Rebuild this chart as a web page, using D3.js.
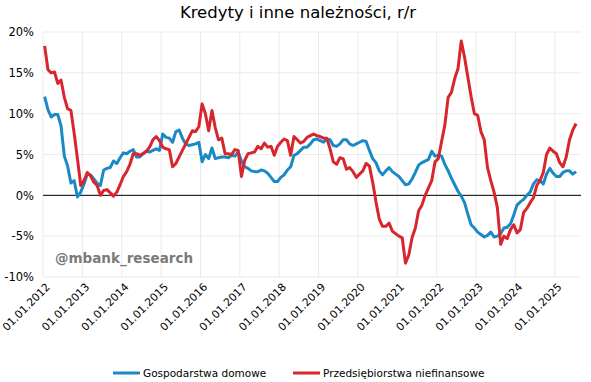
<!DOCTYPE html>
<html>
<head>
<meta charset="utf-8">
<script src="https://cdn.jsdelivr.net/npm/d3@7"></script>
<style>
  body { margin: 0; background: #fff; }
  text { font-family: "DejaVu Sans", Verdana, sans-serif; }
</style>
</head>
<body>
<div id="vizArea"></div>
<script>
// monthly data, Jan 2012 - Jul 2025, y/y %
var households = [
  12.1, 10.5, 9.6, 9.9, 9.9, 8.5, 4.8, 3.6, 1.5, 1.8, -0.2, 0.4,
  1.4, 2.6, 2.5, 2.0, 1.5, 1.2, 3.1, 3.3, 3.4, 4.2, 3.9, 4.6,
  5.2, 5.1, 5.4, 5.6, 4.7, 4.7, 5.1, 5.4, 5.3, 5.5, 5.7, 5.5,
  7.5, 7.1, 7.0, 6.5, 7.8, 8.0, 7.0, 6.3, 6.1, 6.2, 6.3, 6.5,
  4.1, 5.0, 4.5, 5.8, 4.5, 4.6, 4.7, 4.7, 4.6, 4.9, 4.8, 5.3,
  4.2, 3.5, 3.3, 3.0, 2.9, 2.9, 3.1, 3.0, 2.7, 2.2, 1.7, 1.7,
  2.2, 2.5, 3.1, 3.5, 4.9, 5.1, 5.5, 5.9, 5.9, 6.3, 6.8, 6.9,
  6.7, 6.5, 6.9, 6.8, 6.1, 6.0, 6.3, 6.8, 6.8, 6.3, 6.1, 6.3,
  6.5, 6.7, 6.6, 5.5, 4.5, 4.0, 3.0, 2.5, 3.0, 3.4, 2.9, 2.6,
  2.3, 1.8, 1.3, 1.4, 2.0, 2.8, 3.7, 4.0, 4.2, 4.4, 5.4, 4.8,
  4.9, 4.8, 3.8, 3.0, 2.1, 1.3, 0.5, -0.1, -0.9, -2.3, -3.6, -4.0,
  -4.5, -4.8, -5.1, -4.9, -4.5, -5.1, -5.0, -4.7, -4.0, -3.9, -3.5, -2.4,
  -1.2, -0.8, -0.5, 0.0, 0.4, 1.4, 1.9, 1.8, 1.4, 2.6, 3.3, 2.7,
  2.3, 2.3, 2.8, 3.0, 3.0, 2.6, 2.9
];

var corporates = [
  18.3, 15.4, 15.0, 15.1, 13.7, 14.1, 12.0, 10.6, 10.4, 7.6, 4.5, 1.2,
  1.8, 2.8, 2.4, 1.6, 1.2, 0.0, 0.6, 0.7, 0.3, -0.1, 0.4, 1.3,
  2.3, 2.9, 3.8, 5.1, 5.1, 4.9, 5.1, 5.4, 5.9, 6.8, 7.2, 6.7,
  5.9, 5.7, 5.6, 3.5, 3.9, 4.7, 5.5, 6.3, 7.1, 7.9, 7.8, 8.4,
  11.2, 10.0, 7.9, 10.4, 8.3, 6.8, 7.0, 5.1, 5.1, 5.0, 5.6, 5.5,
  2.3, 4.3, 5.1, 5.2, 5.3, 6.0, 5.7, 6.4, 5.9, 6.0, 4.9, 6.0,
  6.5, 6.9, 6.7, 4.9, 7.2, 6.8, 6.4, 6.6, 7.1, 7.3, 7.5, 7.3,
  7.2, 7.0, 7.0, 5.7, 4.1, 3.8, 4.6, 4.5, 3.2, 3.4, 2.9, 2.2,
  2.6, 3.0, 3.9, 3.6, 1.6, -0.8, -2.9, -3.8, -3.8, -3.4, -4.4, -4.7,
  -5.0, -5.2, -8.3, -7.3, -5.2, -4.0, -1.9, -1.2, 0.0, 0.9, 1.8, 4.1,
  4.5, 6.6, 8.6, 12.0, 12.6, 14.3, 15.5, 18.9, 16.9, 14.5, 12.1, 10.0,
  9.8, 7.8, 6.8, 3.4, 1.8, 0.4, -1.5, -6.0, -5.0, -5.3, -4.2, -3.6,
  -4.6, -4.2, -2.1, -1.6, -0.9, -0.3, 1.2, 1.8, 2.8, 5.0, 5.8, 5.4,
  5.1, 4.0, 3.5, 4.7, 6.8, 8.0, 8.8
];

var years = [2012, 2013, 2014, 2015, 2016, 2017, 2018, 2019, 2020, 2021, 2022, 2023, 2024, 2025];
var yTicks = [-10, -5, 0, 5, 10, 15, 20];
var seriesNames = ["Gospodarstwa domowe", "Przedsiębiorstwa niefinansowe"];
var seriesColors = ["#1a8ac6", "#d7262d"];

var W = 591, H = 382;
var plotL = 43, plotR = 581, plotT = 32, plotB = 277;

var svg = d3.select("#vizArea")
  .append("svg")
    .attr("width", W)
    .attr("height", H);

svg.append("rect")
  .attr("width", W)
  .attr("height", H)
  .attr("fill", "white");

var nMonths = households.length + 1;
var x = d3.scaleLinear().domain([0, nMonths]).range([plotL, plotR]);
var y = d3.scaleLinear().domain([-10, 20]).range([plotB, plotT]);

// title
svg.append("text")
  .attr("x", 298)
  .attr("y", 18)
  .attr("text-anchor", "middle")
  .attr("font-size", 16.5)
  .attr("fill", "#000")
  .text("Kredyty i inne należności, r/r");

// grid
var grid = svg.append("g");
grid.selectAll("line.h")
  .data(yTicks)
  .enter().append("line")
    .attr("x1", plotL).attr("x2", plotR)
    .attr("y1", function(d) { return y(d); })
    .attr("y2", function(d) { return y(d); })
    .attr("stroke", "#ebebeb");
grid.selectAll("line.v")
  .data(years)
  .enter().append("line")
    .attr("x1", function(d, i) { return x(i * 12); })
    .attr("x2", function(d, i) { return x(i * 12); })
    .attr("y1", plotT).attr("y2", plotB)
    .attr("stroke", "#ebebeb");

// y axis labels
var yAxis = d3.axisLeft(y)
  .tickValues(yTicks)
  .tickSize(0)
  .tickPadding(9)
  .tickFormat(function(d) { return d + "%"; });
var ya = svg.append("g")
  .attr("transform", "translate(" + plotL + ",0)")
  .call(yAxis);
ya.select(".domain").remove();
ya.selectAll("text").attr("font-size", 11.5).attr("fill", "#000")
  .style("font-family", "'DejaVu Sans', Verdana, sans-serif");

// x labels, rotated
svg.append("g").selectAll("text")
  .data(years)
  .enter().append("text")
    .attr("transform", function(d, i) {
      return "translate(" + (x(i * 12) + 5) + "," + (plotB + 8) + ") rotate(-45)";
    })
    .attr("text-anchor", "end")
    .attr("dy", "0.35em")
    .attr("font-size", 10.8)
    .attr("fill", "#000")
    .text(function(d) { return "01.01." + d; });

// watermark
svg.append("text")
  .attr("x", 55)
  .attr("y", 263)
  .attr("font-size", 13.5)
  .attr("font-weight", "bold")
  .attr("fill", "#7a7a7a")
  .text("@mbank_research");

// zero line
svg.append("line")
  .attr("x1", plotL).attr("x2", plotR)
  .attr("y1", y(0)).attr("y2", y(0))
  .attr("stroke", "#000")
  .attr("stroke-width", 1);

var line = d3.line()
  .x(function(d, i) { return x(i + 0.5); })
  .y(function(d) { return y(d); });

[households, corporates].forEach(function(s, k) {
  svg.append("path")
    .datum(s)
    .attr("fill", "none")
    .attr("stroke", seriesColors[k])
    .attr("stroke-width", 3)
    .attr("stroke-linejoin", "round")
    .attr("d", line);
});

// legend
var legendX = [113, 293];
var lg = svg.append("g");
seriesNames.forEach(function(name, k) {
  lg.append("line")
    .attr("x1", legendX[k]).attr("x2", legendX[k] + 27)
    .attr("y1", 373).attr("y2", 373)
    .attr("stroke", seriesColors[k])
    .attr("stroke-width", 3);
  lg.append("text")
    .attr("x", legendX[k] + 30)
    .attr("y", 373)
    .attr("dy", "0.35em")
    .attr("font-size", 10.5)
    .attr("fill", "#000")
    .text(name);
});
</script>
</body>
</html>
